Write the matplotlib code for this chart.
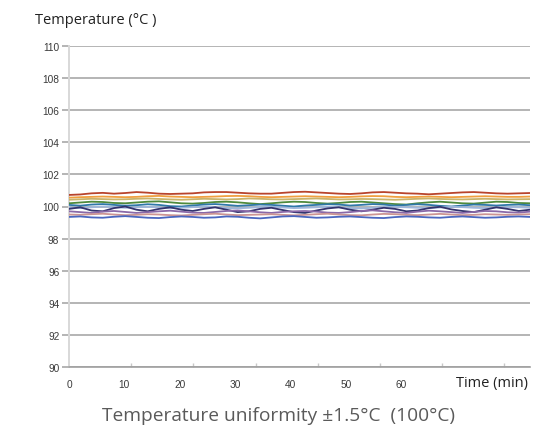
import numpy as np
import matplotlib
matplotlib.use("Agg")
import matplotlib.pyplot as plt

# readings of each probe, sampled evenly across the run
red = [100.72, 100.75, 100.82, 100.85, 100.8, 100.84, 100.9, 100.86, 100.8, 100.78, 100.8, 100.82, 100.88, 100.9,
       100.9, 100.86, 100.82, 100.8, 100.8, 100.85, 100.9, 100.92, 100.88, 100.84, 100.8, 100.78, 100.82, 100.88,
       100.9, 100.86, 100.82, 100.8, 100.76, 100.8, 100.84, 100.88, 100.9, 100.86, 100.82, 100.8, 100.82, 100.84]
orange = [100.55, 100.58, 100.6, 100.62, 100.6, 100.58, 100.6, 100.64, 100.66, 100.62, 100.6, 100.58, 100.6, 100.62,
          100.65, 100.66, 100.64, 100.6, 100.58, 100.6, 100.62, 100.64, 100.62, 100.6, 100.58, 100.6, 100.63, 100.65,
          100.64, 100.6, 100.58, 100.6, 100.62, 100.6, 100.58, 100.6, 100.62, 100.64, 100.62, 100.6, 100.6, 100.62]
gold = [100.42, 100.45, 100.48, 100.46, 100.44, 100.45, 100.48, 100.5, 100.47, 100.44, 100.42, 100.45, 100.48, 100.46,
        100.44, 100.46, 100.5, 100.48, 100.45, 100.44, 100.46, 100.48, 100.5, 100.47, 100.44, 100.45, 100.47, 100.46,
        100.44, 100.42, 100.45, 100.48, 100.5, 100.47, 100.45, 100.44, 100.46, 100.48, 100.46, 100.44, 100.45, 100.46]
green = [100.2, 100.25, 100.3, 100.28, 100.22, 100.2, 100.25, 100.3, 100.32, 100.26, 100.2, 100.18, 100.22, 100.28,
         100.3, 100.26, 100.2, 100.15, 100.2, 100.26, 100.3, 100.28, 100.22, 100.18, 100.22, 100.28, 100.3, 100.25,
         100.2, 100.15, 100.12, 100.2, 100.26, 100.3, 100.25, 100.2, 100.18, 100.24, 100.3, 100.28, 100.22, 100.2]
teal = [100.1, 100.05, 100.12, 100.15, 100.1, 100.05, 100.08, 100.14, 100.1, 100.02, 100.0, 100.06, 100.12, 100.15,
        100.1, 100.04, 100.08, 100.12, 100.1, 100.05, 100.0, 100.06, 100.1, 100.14, 100.12, 100.06, 100.1, 100.15,
        100.12, 100.05, 100.1, 100.14, 100.1, 100.04, 100.0, 100.06, 100.12, 100.1, 100.06, 100.1, 100.12, 100.08]
lblue = [99.95, 99.9, 99.95, 100.0, 99.96, 99.92, 99.95, 99.98, 99.94, 99.9, 99.92, 99.96, 100.0, 99.95,
         99.9, 99.88, 99.92, 99.96, 99.98, 99.94, 99.9, 99.92, 99.95, 99.98, 99.95, 99.9, 99.88, 99.92,
         99.96, 99.98, 99.95, 99.92, 99.9, 99.94, 99.98, 99.96, 99.92, 99.9, 99.94, 99.96, 99.95, 99.92]
navy = [99.85, 99.95, 99.75, 99.7, 99.9, 100.0, 99.8, 99.7, 99.85, 99.95, 99.8, 99.72, 99.85, 99.95,
        99.8, 99.65, 99.7, 99.85, 99.92, 99.78, 99.65, 99.6, 99.75, 99.88, 99.95, 99.8, 99.7, 99.8,
        99.92, 99.85, 99.7, 99.75, 99.9, 99.98, 99.82, 99.72, 99.65, 99.8, 99.95, 99.85, 99.72, 99.8]
purple = [99.7, 99.65, 99.6, 99.68, 99.72, 99.66, 99.6, 99.65, 99.7, 99.74, 99.68, 99.62, 99.6, 99.66,
          99.72, 99.75, 99.7, 99.64, 99.6, 99.66, 99.7, 99.72, 99.68, 99.62, 99.6, 99.65, 99.72, 99.76,
          99.7, 99.64, 99.6, 99.68, 99.74, 99.7, 99.65, 99.6, 99.66, 99.72, 99.7, 99.64, 99.62, 99.68]
pink = [99.5, 99.48, 99.52, 99.55, 99.5, 99.46, 99.48, 99.52, 99.5, 99.46, 99.44, 99.48, 99.52, 99.55,
        99.5, 99.46, 99.48, 99.5, 99.52, 99.48, 99.45, 99.48, 99.52, 99.55, 99.5, 99.46, 99.45, 99.5,
        99.54, 99.52, 99.48, 99.46, 99.5, 99.54, 99.5, 99.46, 99.48, 99.52, 99.5, 99.48, 99.5, 99.52]
blue = [99.35, 99.38, 99.32, 99.3, 99.36, 99.4, 99.35, 99.3, 99.28, 99.34, 99.38, 99.35, 99.3, 99.32,
        99.38, 99.36, 99.3, 99.26, 99.32, 99.38, 99.4, 99.35, 99.3, 99.32, 99.36, 99.38, 99.34, 99.3,
        99.28, 99.34, 99.38, 99.36, 99.32, 99.3, 99.35, 99.38, 99.34, 99.3, 99.32, 99.36, 99.38, 99.35]

series = [red, orange, gold, green, teal, lblue, navy, purple, pink, blue]
colors = ["#b8442c", "#f0a040", "#c9b36a", "#4f8a3c", "#2f78a8", "#9db6dc", "#34346e", "#8a68a8", "#cc9494", "#4a66c0"]

x_labels = [0, 10, 20, 30, 40, 50, 60]
y_ticks = list(range(90, 111, 2))
t_end = 83.3

fig = plt.figure(figsize=(5.53, 4.39), dpi=100)
ax = fig.add_axes([69 / 553, 1 - 368 / 439, 461 / 553, 321 / 439])

for s, c in zip(series, colors):
    t = np.linspace(0, t_end, len(s))
    ax.plot(t, s, color=c, lw=1.3, zorder=3)

ax.set_xlim(0, t_end)
ax.set_ylim(90, 110)
ax.set_yticks(y_ticks)
ax.set_yticklabels([str(v) for v in y_ticks], fontsize=7.3, color="#3a3a3a", family="Liberation Sans")
ax.yaxis.grid(True, color="#a8a8a8", lw=1.2)
ax.tick_params(axis="y", length=5, width=1.2, color="#a8a8a8", pad=2)

# x labels sit below the axis; tick marks are on a separate spacing
ax.set_xticks(x_labels)
ax.set_xticklabels([str(v) for v in x_labels], fontsize=7.3, color="#3a3a3a", family="Liberation Sans")
ax.tick_params(axis="x", length=0, pad=9)
ax.set_xticks(np.arange(1, 8) * 11.24, minor=True)
ax.tick_params(axis="x", which="minor", length=3, width=1, color="#c8c8c8", direction="in")

for sp in ["top", "right"]:
    ax.spines[sp].set_visible(False)
ax.spines["left"].set_color("#d8d8d8")
ax.spines["left"].set_linewidth(1.4)
ax.spines["bottom"].set_color("#a0a0a0")
ax.spines["bottom"].set_linewidth(1.2)

fig.text(35 / 553, 1 - 20 / 439, "Temperature (°C )", fontsize=10.5, family="Open Sans", color="#222222", va="center")
fig.text(528 / 553, 1 - 384 / 439, "Time (min)", fontsize=10.5, family="Open Sans", color="#222222", va="center", ha="right")
fig.text(278 / 553, 1 - 416 / 439, "Temperature uniformity ±1.5°C  (100°C)", fontsize=13.8, family="Open Sans",
         color="#5a5a5a", va="center", ha="center")

fig.savefig("out.png", dpi=100)
